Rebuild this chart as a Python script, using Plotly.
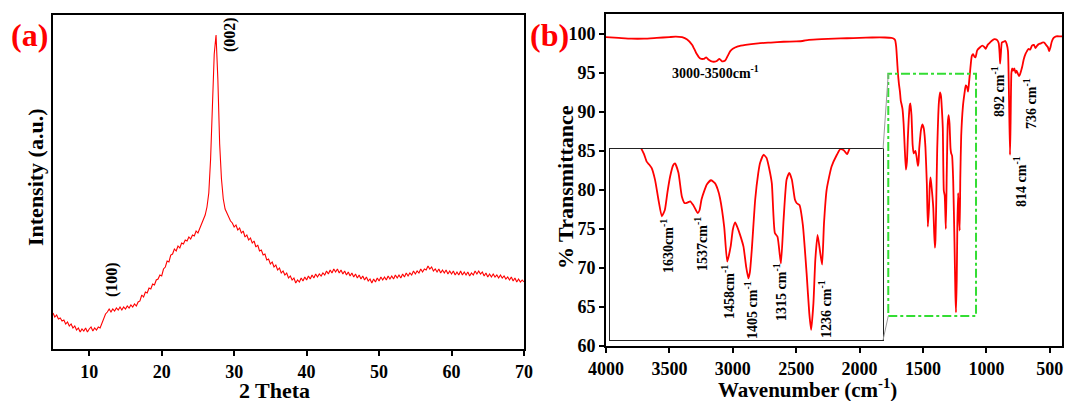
import numpy as np
import plotly.graph_objects as go

# ---------------- data ----------------
# (a) XRD pattern, 2-theta from 5 to 70 in 0.25 deg steps (intensity in arbitrary units)
two_theta = np.linspace(5, 70, 261)
xrd_intensity = [
    36, 32, 34, 30, 31, 28, 29, 25, 27, 23, 25, 21, 23, 19, 21, 17, 20, 18, 21, 17,
    20, 22, 18, 21, 19, 22, 21, 26, 30, 35, 37, 40, 37, 40, 38, 41, 39, 42, 39, 42,
    40, 43, 41, 44, 42, 45, 43, 47, 48, 54, 52, 57, 56, 61, 60, 65, 64, 69, 70, 74,
    73, 80, 82, 88, 87, 94, 95, 100, 98, 103, 101, 106, 105, 109, 108, 112, 110, 114, 113, 118,
    116, 121, 124, 130, 134, 142, 156, 190, 245, 295, 314, 270, 205, 170, 150, 140, 136, 132, 128, 126,
    122, 124, 119, 121, 116, 118, 112, 114, 109, 111, 106, 108, 102, 104, 98, 99, 94, 95, 89, 90,
    85, 87, 82, 84, 79, 81, 76, 78, 74, 76, 71, 73, 69, 71, 66, 69, 67, 71, 68, 72,
    69, 73, 70, 74, 71, 75, 72, 75, 73, 76, 74, 78, 75, 79, 76, 80, 77, 80, 76, 79,
    75, 78, 74, 77, 73, 76, 72, 75, 71, 74, 70, 73, 69, 72, 68, 70, 66, 70, 67, 71,
    68, 72, 69, 72, 69, 73, 70, 73, 70, 74, 71, 74, 71, 75, 72, 76, 73, 76, 74, 78,
    75, 78, 76, 80, 77, 80, 79, 83, 80, 82, 78, 80, 77, 80, 76, 79, 76, 79, 75, 78,
    75, 78, 74, 77, 74, 78, 74, 77, 74, 77, 73, 76, 74, 78, 75, 78, 75, 77, 73, 76,
    72, 75, 72, 75, 72, 74, 71, 74, 71, 73, 70, 72, 69, 72, 68, 71, 67, 70, 67, 69,
    67,
]
xrd_ticks = [10, 20, 30, 40, 50, 60, 70]

# (b) FTIR spectrum
wavenumber = [
    4000, 3900, 3800, 3700, 3600, 3500, 3450, 3400, 3360, 3320, 3290, 3260, 3230, 3210,
    3190, 3160, 3130, 3105, 3085, 3060, 3040, 3020, 3000, 2960, 2900, 2800, 2700, 2600,
    2500, 2450, 2400, 2300, 2200, 2100, 2000, 1900, 1800, 1750, 1730, 1720, 1712, 1705,
    1698, 1690, 1682, 1675, 1668, 1662, 1653, 1644, 1635, 1627, 1620, 1613, 1605, 1600,
    1591, 1582, 1574, 1567, 1560, 1552, 1545, 1540, 1535, 1530, 1522, 1516, 1505, 1494,
    1487, 1481, 1470, 1462, 1453, 1447, 1441, 1435, 1428, 1419, 1412, 1406, 1402, 1397,
    1388, 1380, 1375, 1366, 1358, 1351, 1344, 1336, 1329, 1320, 1313, 1305, 1298, 1291,
    1283, 1278, 1271, 1262, 1252, 1245, 1240, 1234, 1229, 1223, 1216, 1211, 1206, 1199,
    1186, 1172, 1163, 1153, 1145, 1138, 1126, 1115, 1105, 1095, 1086, 1073, 1050, 1032,
    1015, 1005, 990, 978, 960, 937, 915, 903, 896, 892, 886, 878, 865, 851, 840, 830,
    822, 814, 809, 803, 797, 789, 780, 770, 762, 752, 743, 736, 728, 718, 705, 690,
    680, 668, 655, 641, 625, 614, 600, 587, 570, 560, 545, 530, 515, 505, 495, 485,
    470, 450, 420, 400,
]
transmittance = [
    99.6, 99.5, 99.4, 99.4, 99.5, 99.6, 99.65, 99.6, 99.3, 98.6, 97.6, 96.9, 96.8, 97.0,
    96.7, 96.45, 96.5, 96.8, 96.5, 96.6, 97.2, 97.8, 98.1, 98.4, 98.6, 98.8, 98.9, 99.0,
    99.05, 99.1, 99.25, 99.35, 99.4, 99.45, 99.5, 99.55, 99.55, 99.5, 99.4, 99.2, 98.4, 96.8,
    95.0, 93.6, 92.6, 91.4, 90.9, 90.4, 88.5, 85.3, 82.6, 83.6, 86.5, 89.0, 90.8, 91.1,
    89.6, 85.8, 84.7, 84.8, 85.0, 84.4, 83.6, 83.1, 83.6, 85.3, 86.8, 87.7, 88.4, 87.9,
    86.9, 85.5, 80.9, 75.3, 77.7, 80.5, 81.6, 80.8, 79.6, 77.7, 74.5, 72.6, 73.6, 77.2,
    85.3, 89.5, 91.2, 92.5, 92.0, 90.3, 87.9, 79.9, 79.3, 75.0, 82.0, 88.5, 89.6, 88.5,
    85.3, 84.7, 84.4, 81.2, 73.4, 67.0, 64.3, 68.6, 75.6, 79.6, 76.7, 74.8, 81.5, 86.9,
    90.6, 92.5, 93.4, 93.2, 92.6, 93.6, 95.7, 97.2, 97.4, 97.1, 97.0, 97.9, 98.3, 98.5,
    98.3, 98.1, 98.6, 98.8, 99.1, 99.35, 99.2, 98.8, 97.5, 96.2, 97.5, 98.9, 99.0, 99.1, 98.7, 97.8,
    92.0, 84.5, 89.0, 95.0, 95.6, 95.3, 95.6, 95.0, 95.3, 94.9, 94.6, 94.8, 95.2, 95.8, 96.8, 97.5,
    97.8, 98.1, 98.0, 98.5, 98.6, 98.2, 98.5, 98.7, 98.8, 98.9, 98.9, 98.6, 98.3, 97.8, 98.3, 99.0,
    99.5, 99.7, 99.7, 99.7,
]
ftir_xticks = [4000, 3500, 3000, 2500, 2000, 1500, 1000, 500]
ftir_yticks = [60, 65, 70, 75, 80, 85, 90, 95, 100]

# ---------------- layout helpers ----------------
W, H = 1067, 401
FONT = "Liberation Serif, Times New Roman, serif"
RED = "#ff0000"


def px(x):
    return x / W


def py(y):
    return 1 - y / H


fig = go.Figure()
fig.add_trace(go.Scatter(x=two_theta, y=xrd_intensity, mode="lines",
                         line=dict(color=RED, width=1.1), xaxis="x", yaxis="y"))
fig.add_trace(go.Scatter(x=wavenumber, y=transmittance, mode="lines",
                         line=dict(color=RED, width=1.8, shape="spline", smoothing=0.5),
                         xaxis="x2", yaxis="y2"))
fig.add_trace(go.Scatter(x=wavenumber, y=transmittance, mode="lines",
                         line=dict(color=RED, width=1.8, shape="spline", smoothing=0.5),
                         xaxis="x3", yaxis="y3"))

tickfont = dict(family=FONT, size=18, color="black", weight="bold")
axis_common = dict(showline=True, linecolor="black", linewidth=2, mirror=True,
                   showgrid=False, zeroline=False, ticks="outside", ticklen=5,
                   tickwidth=2, tickcolor="black", tickfont=tickfont, automargin=False)
inset_axis = dict(showline=True, linecolor="#222", linewidth=1, mirror=True, ticks="",
                  showticklabels=False, showgrid=False, zeroline=False, automargin=False)

fig.update_layout(
    width=W, height=H, margin=dict(l=0, r=0, t=0, b=0, pad=0, autoexpand=False),
    paper_bgcolor="white", plot_bgcolor="white", showlegend=False,
    font=dict(family=FONT, color="black"),
    xaxis=dict(axis_common, domain=[px(53), px(524)], range=[5, 70], tickvals=xrd_ticks,
               anchor="y", ticklabelstandoff=0),
    yaxis=dict(axis_common, domain=[py(349), py(15)], range=[0, 334], ticks="",
               showticklabels=False, anchor="x"),
    xaxis2=dict(axis_common, domain=[px(606), px(1062)], range=[4000, 404],
                tickvals=ftir_xticks, anchor="y2", ticklabelstandoff=0),
    yaxis2=dict(axis_common, domain=[py(346), py(14)], range=[60, 102.56],
                tickvals=ftir_yticks, anchor="x2"),
    xaxis3=dict(inset_axis, domain=[px(610), px(883)], range=[1772, 1050], anchor="y3"),
    yaxis3=dict(inset_axis, domain=[py(340), py(149)], range=[62.67, 93.43], anchor="x3"),
)

# green zoom box and connector lines
fig.add_shape(type="rect", xref="x2", yref="y2", x0=1774, x1=1082, y0=63.85, y1=94.9,
              line=dict(color="#33dd33", width=2, dash="dashdot"))
fig.add_shape(type="line", xref="x2", yref="y2", x0=1815, y0=85.26, x1=1774, y1=94.9,
              line=dict(color="#999999", width=1))
fig.add_shape(type="line", xref="x2", yref="y2", x0=1815, y0=60.77, x1=1774, y1=63.85,
              line=dict(color="#999999", width=1))


def label(text, x, y, size, angle=0, color="black"):
    fig.add_annotation(text=text, x=px(x), y=py(y), xref="paper", yref="paper",
                       showarrow=False, textangle=angle, xanchor="center", yanchor="middle",
                       font=dict(family=FONT, size=size, color=color, weight="bold"))


label("(a)", 29, 35, 32, color=RED)
label("(b)", 550, 35, 32, color=RED)
label("(100)", 112, 280, 16, -90)
label("(002)", 230, 35, 16, -90)
label("Intensity (a.u.)", 36, 177, 22, -90)
label("2 Theta", 274, 390, 22)
label("% Transmittance", 566, 187, 22, -90)
label("Wavenumber (cm<sup>-1</sup>)", 807, 388, 21)
label("3000-3500cm<sup>-1</sup>", 715, 72, 14)
label("892 cm<sup>-1</sup>", 998, 92, 14, -90)
label("814 cm<sup>-1</sup>", 1020, 182, 14, -90)
label("736 cm<sup>-1</sup>", 1030, 104, 14, -90)
label("1630cm<sup>-1</sup>", 667, 246, 14, -90)
label("1537cm<sup>-1</sup>", 701, 244, 14, -90)
label("1458cm<sup>-1</sup>", 728, 292, 14, -90)
label("1405 cm<sup>-1</sup>", 751, 310, 14, -90)
label("1315 cm<sup>-1</sup>", 780, 292, 14, -90)
label("1236 cm<sup>-1</sup>", 825, 309, 14, -90)

fig.write_html(
    "out.html",
    config={"displayModeBar": False},
    post_script="document.body.style.margin='0';document.body.style.padding='0';"
                "document.body.style.overflow='hidden';",
)
